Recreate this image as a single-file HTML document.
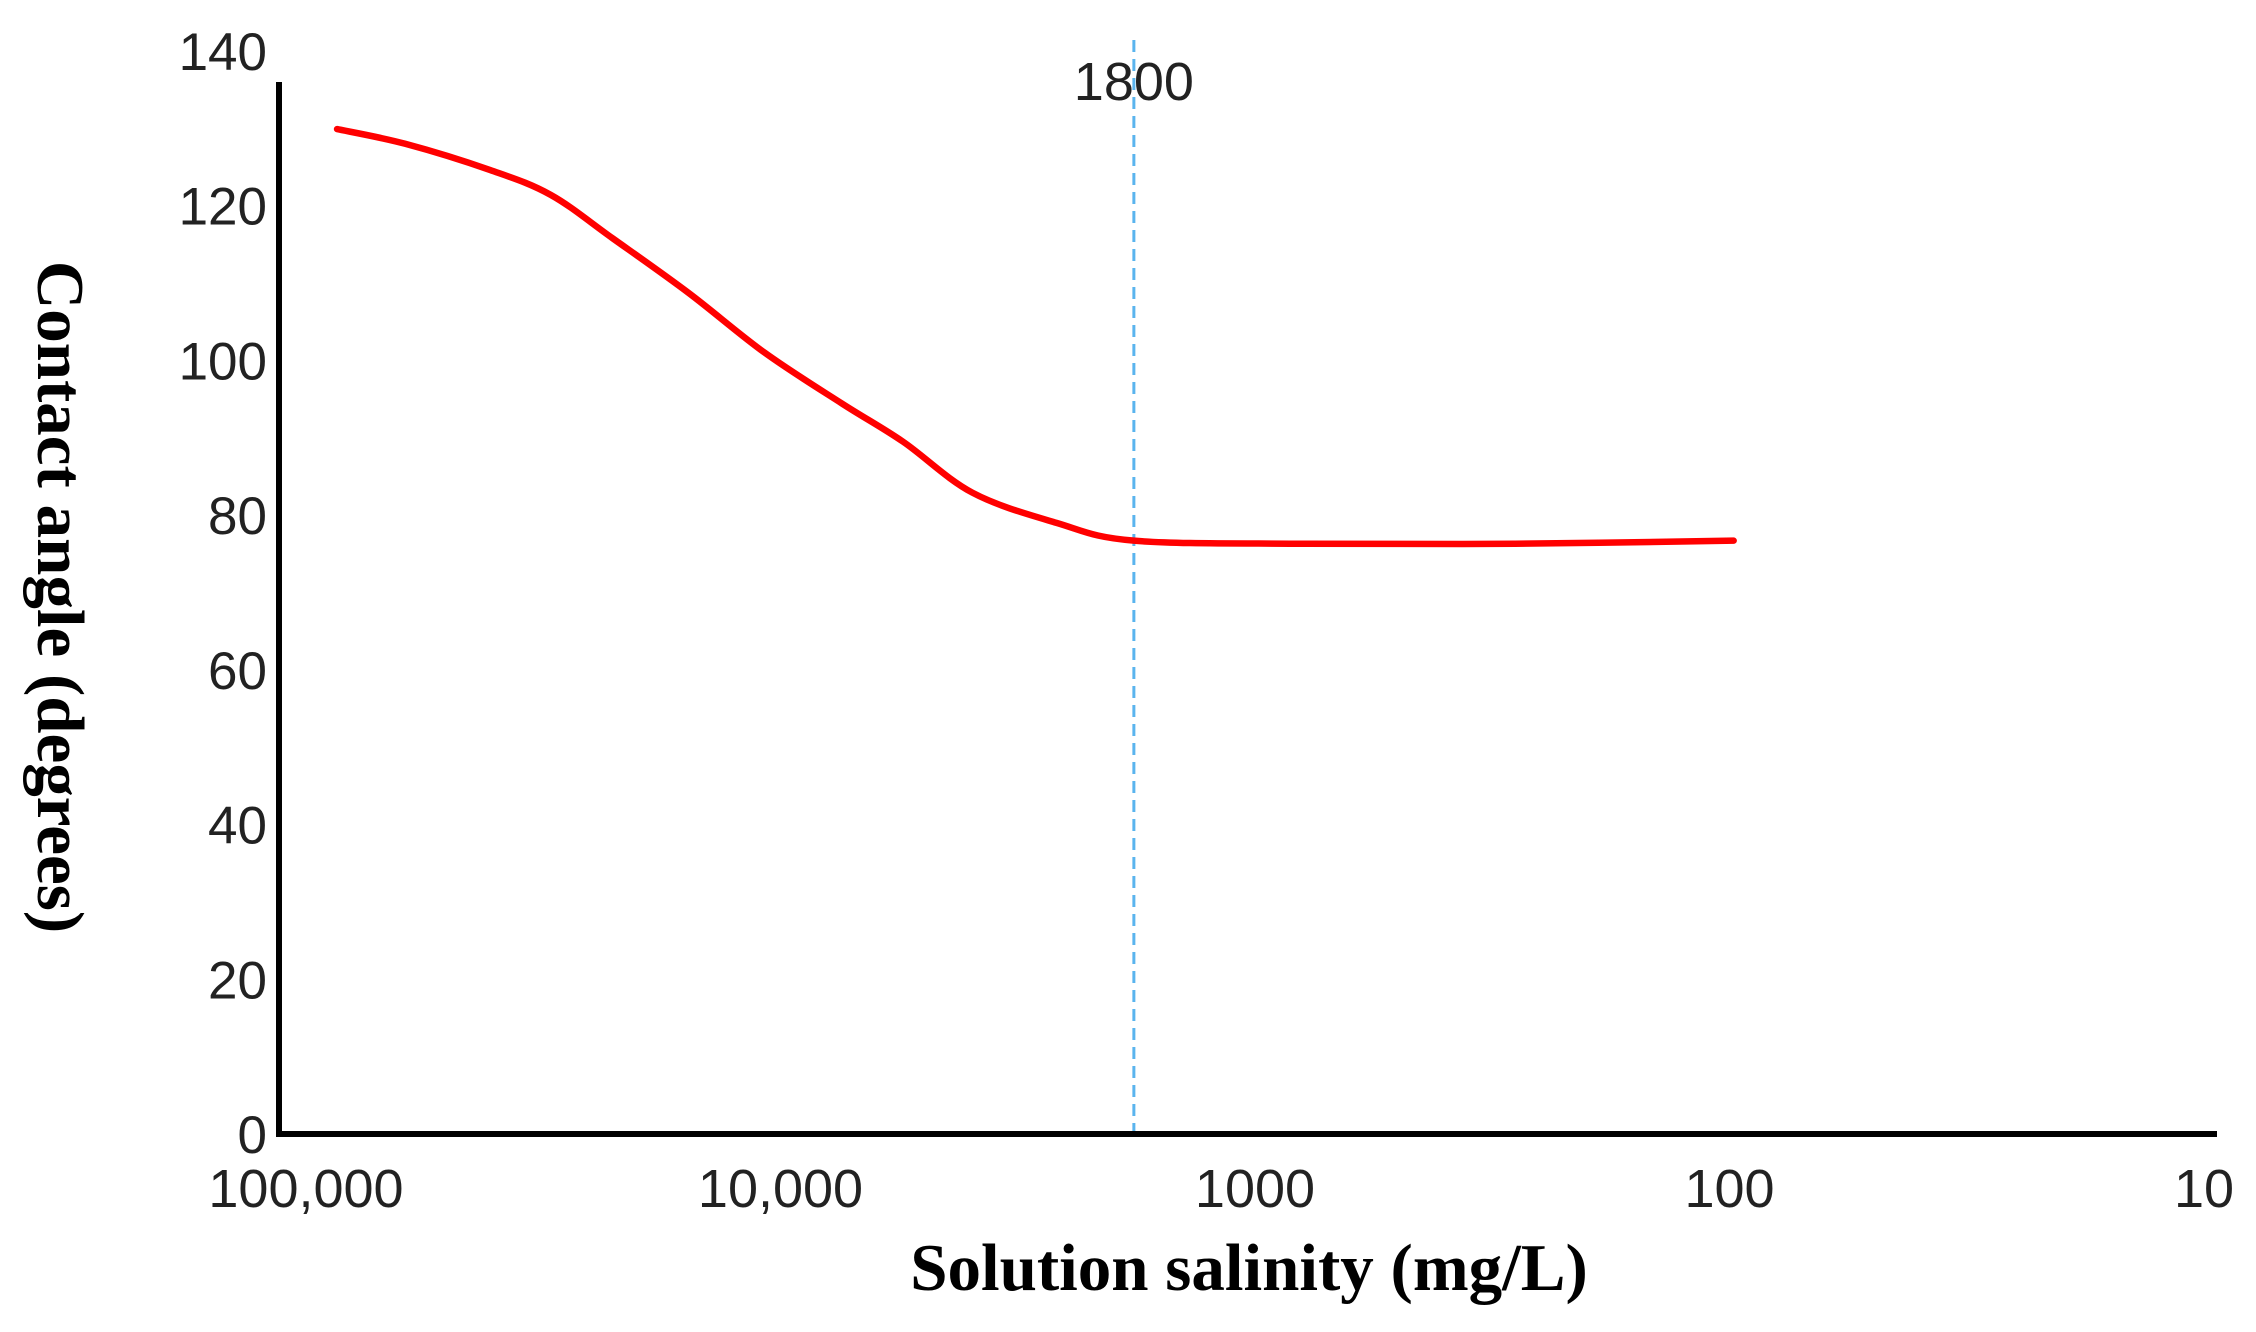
<!DOCTYPE html>
<html><head><meta charset="utf-8"><style>
html,body{margin:0;padding:0;background:#fff;}
svg{display:block;}
</style></head><body>
<svg id="chart" width="2256" height="1332" viewBox="0 0 2256 1332" xmlns="http://www.w3.org/2000/svg">
<g id="yticks"></g>
<g id="xticks"></g>
<line id="refline" x1="0" y1="40" x2="0" y2="1134" stroke="#5ab4ee" stroke-width="3" stroke-dasharray="12,7"/>
<text id="reflabel" y="100" text-anchor="middle" font-family="Liberation Sans, sans-serif" font-size="54" fill="#222">1800</text>
<path id="curve" fill="none" stroke="#ff0000" stroke-width="6.5" stroke-linejoin="round" stroke-linecap="round"/>
<line x1="279" y1="82" x2="279" y2="1137" stroke="#000" stroke-width="6"/>
<line x1="276" y1="1134" x2="2217" y2="1134" stroke="#000" stroke-width="6"/>
<text x="1249" y="1290" text-anchor="middle" font-family="Liberation Serif, serif" font-weight="bold" font-size="67" fill="#000">Solution salinity (mg/L)</text>
<text transform="translate(38,597) rotate(90)" text-anchor="middle" font-family="Liberation Serif, serif" font-weight="bold" font-size="67" fill="#000">Contact angle (degrees)</text>
</svg>
<script>
const yTicks = [0, 20, 40, 60, 80, 100, 120, 140];
const xTickValues = [100000, 10000, 1000, 100, 10];
const xTickLabels = ["100,000", "10,000", "1000", "100", "10"];
const salinity = [86000, 61800, 40900, 30500, 22600, 15600, 10800, 7410, 5520, 3940, 2620, 1800, 785, 283, 98];
const angle = [129.9, 128, 124.6, 121.4, 115.8, 108.7, 101, 94.4, 89.5, 82.9, 79, 76.7, 76.3, 76.3, 76.7];
const refSalinity = 1800;

const NS = "http://www.w3.org/2000/svg";
function xs(v){ return 306 + (5 - Math.log10(v)) * 474.5; }
function ys(v){ return 1134 - v * 7.736; }

const yg = document.getElementById('yticks');
yTicks.forEach(t => {
  const el = document.createElementNS(NS, 'text');
  
  
  el.setAttribute('x', 267);
  el.setAttribute('y', ys(t) + 19);
  el.setAttribute('text-anchor', 'end');
  el.setAttribute('font-family', 'Liberation Sans, sans-serif');
  el.setAttribute('font-size', '53');
  el.setAttribute('fill', '#222');
  el.textContent = t;
  yg.appendChild(el);
});
const xg = document.getElementById('xticks');
xTickValues.forEach((v, i) => {
  const el = document.createElementNS(NS, 'text');
  
  
  el.setAttribute('x', xs(v));
  el.setAttribute('y', 1207);
  el.setAttribute('text-anchor', 'middle');
  el.setAttribute('font-family', 'Liberation Sans, sans-serif');
  el.setAttribute('font-size', '54');
  el.setAttribute('fill', '#222');
  el.textContent = xTickLabels[i];
  xg.appendChild(el);
});
const rl = document.getElementById('refline');
rl.setAttribute('x1', xs(refSalinity));
rl.setAttribute('x2', xs(refSalinity));
document.getElementById('reflabel').setAttribute('x', xs(refSalinity));

const pts = salinity.map((s, i) => [xs(s), ys(angle[i])]);
let d = 'M' + pts[0][0] + ',' + pts[0][1];
for (let i = 0; i < pts.length - 1; i++) {
  const p0 = pts[Math.max(0, i - 1)], p1 = pts[i], p2 = pts[i + 1], p3 = pts[Math.min(pts.length - 1, i + 2)];
  const c1 = [p1[0] + (p2[0] - p0[0]) / 6, p1[1] + (p2[1] - p0[1]) / 6];
  const c2 = [p2[0] - (p3[0] - p1[0]) / 6, p2[1] - (p3[1] - p1[1]) / 6];
  d += ' C' + c1[0] + ',' + c1[1] + ' ' + c2[0] + ',' + c2[1] + ' ' + p2[0] + ',' + p2[1];
}
document.getElementById('curve').setAttribute('d', d);
</script>
</body></html>
